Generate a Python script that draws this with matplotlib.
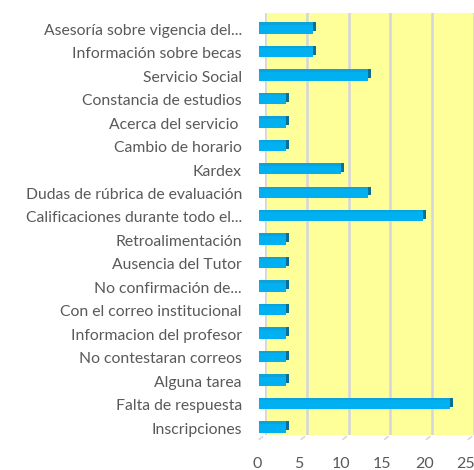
import matplotlib
matplotlib.use("Agg")
import matplotlib.pyplot as plt
import matplotlib.transforms as mtransforms

categories = [
    "Asesoría sobre vigencia del...",
    "Información sobre becas",
    "Servicio Social",
    "Constancia de estudios",
    "Acerca del servicio ",
    "Cambio de horario",
    "Kardex",
    "Dudas de rúbrica de evaluación",
    "Calificaciones durante todo el...",
    "Retroalimentación",
    "Ausencia del Tutor",
    "No confirmación de...",
    "Con el correo institucional",
    "Informacion del profesor",
    "No contestaran correos",
    "Alguna tarea",
    "Falta de respuesta",
    "Inscripciones",
]
values = [6.4, 6.4, 13, 3.2, 3.2, 3.2, 9.8, 13, 19.6, 3.2, 3.2, 3.2, 3.2, 3.2, 3.2, 3.2, 22.8, 3.2]
xticks = [0, 5, 10, 15, 20, 25]

W, H = 474, 470
dpi = 100
fig = plt.figure(figsize=(W / dpi, H / dpi), dpi=dpi)
ax = fig.add_axes([265 / W, (H - 435) / H, (W - 265) / W, (435 - 13) / H])
ax.set_facecolor("#ffff99")
for s in ax.spines.values():
    s.set_visible(False)

n = len(categories)
ypos = [n - 1 - i for i in range(n)]

ax.set_xlim(0, 25)
ax.set_ylim(-0.29, n - 1 + 0.69)
ax.set_xticks(xticks)
ax.grid(axis="x", color="#d4d4e0", linewidth=1.8)
ax.set_axisbelow(True)

px = 72.0 / dpi
front = ax.transData + mtransforms.ScaledTranslation(-6 / dpi, 0, fig.dpi_scale_trans)
top = ax.transData + mtransforms.ScaledTranslation(-6 / dpi, 2.5 / dpi, fig.dpi_scale_trans)
side = ax.transData + mtransforms.ScaledTranslation(-3 / dpi, 2.5 / dpi, fig.dpi_scale_trans)

h = 0.38
ax.barh(ypos, values, height=h, color="#0a6f96", transform=side, clip_on=False, zorder=2)
ax.barh(ypos, values, height=h, color="#0ea2da", transform=top, clip_on=False, zorder=2.5)
ax.barh(ypos, values, height=h, color="#00b0f0", transform=front, clip_on=False, zorder=3)

ax.set_yticks(ypos)
ax.set_yticklabels(categories)
ax.tick_params(axis="y", length=0, pad=23 * px, labelsize=11.3, labelcolor="#595959")
ax.tick_params(axis="x", length=0, pad=22 * px, labelsize=11.5, labelcolor="#595959")
for lab in ax.get_yticklabels():
    lab.set_family("Lato")
shift = mtransforms.ScaledTranslation(-8 / dpi, 0, fig.dpi_scale_trans)
for lab in ax.get_xticklabels():
    lab.set_family("Lato")
    lab.set_transform(lab.get_transform() + shift)

# diagonal floor tick marks
for t in xticks:
    ax.annotate("", xy=(t, 0), xycoords=("data", "axes fraction"),
                xytext=(-8, -6), textcoords="offset pixels",
                arrowprops=dict(arrowstyle="-", color="#d9d9d9", lw=1.2),
                annotation_clip=False)

fig.savefig("out.png", dpi=dpi)
